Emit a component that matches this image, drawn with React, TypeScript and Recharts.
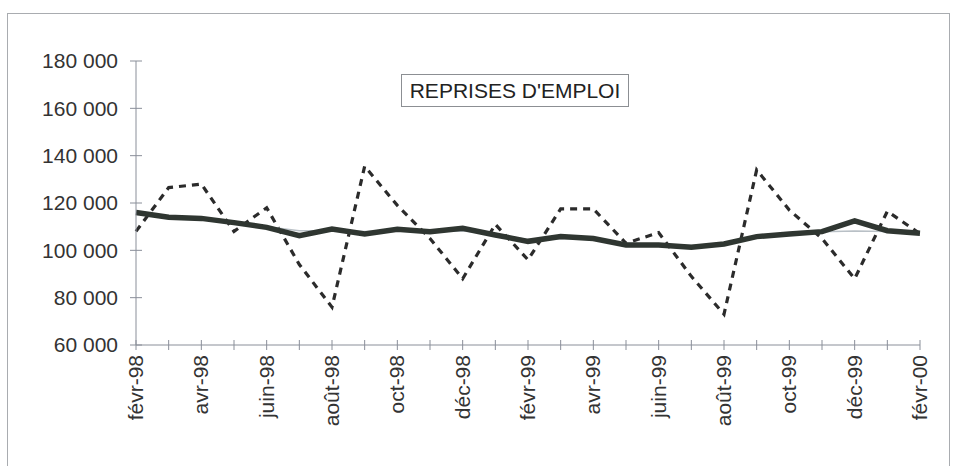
import { Line, LineChart, XAxis, YAxis } from "recharts";

const months = [
  "févr-98", "mars-98", "avr-98", "mai-98", "juin-98", "juil-98", "août-98", "sept-98", "oct-98",
  "nov-98", "déc-98", "janv-99", "févr-99", "mars-99", "avr-99", "mai-99", "juin-99", "juil-99",
  "août-99", "sept-99", "oct-99", "nov-99", "déc-99", "janv-00", "févr-00",
];

// brute (pointillés)
const brut = [
  108000, 126500, 128000, 108000, 118000, 94000, 76000, 135500, 119000,
  105000, 88000, 111000, 96000, 117500, 117500, 103000, 107500, 89000,
  73000, 134000, 117000, 105000, 88000, 116500, 107000,
];

// série lissée (trait épais)
const lisse = [
  116000, 114000, 113500, 111700, 109700, 106200, 109000, 106900, 108900,
  107900, 109300, 106500, 103800, 105800, 105000, 102300, 102300, 101300,
  102700, 105800, 106900, 107900, 112400, 108300, 107200,
];

// tendance (trait fin gris)
const tendance = [
  115800, 114000, 113500, 111700, 110000, 108300, 108300, 108000, 108200,
  108000, 108200, 107000, 104500, 105000, 104800, 103000, 102500, 102000,
  103000, 105500, 106800, 107800, 108200, 108000, 107200,
];

const yTicks = [60000, 80000, 100000, 120000, 140000, 160000, 180000];

const data = months.map((m, i) => ({ m, brut: brut[i], lisse: lisse[i], tendance: tendance[i] }));

const FONT = '"Liberation Sans", Arial, sans-serif';
const AXIS = "#8a8f99";

const fmt = (v: number) => {
  const s = String(v);
  return s.length > 3 ? s.slice(0, s.length - 3) + " " + s.slice(-3) : s;
};

function XTick(props: any) {
  const { x, y, payload, index } = props;
  return (
    <g>
      <line x1={x} x2={x} y1={y - 5} y2={y + 5} stroke={AXIS} strokeWidth={1} />
      {index % 2 === 0 && (
        <text
          x={x + 7}
          y={y + 10}
          transform={`rotate(-90, ${x + 7}, ${y + 10})`}
          textAnchor="end"
          fontSize={21}
          fontFamily={FONT}
          fill="#333"
        >
          {payload.value}
        </text>
      )}
    </g>
  );
}

function YTick(props: any) {
  const { x, y, payload } = props;
  return (
    <g>
      <line x1={x - 6} x2={x + 6} y1={y} y2={y} stroke={AXIS} strokeWidth={1} />
      <text x={118} y={y} dy="0.35em" textAnchor="end" fontSize={21} fontFamily={FONT} fill="#333">
        {fmt(payload.value)}
      </text>
    </g>
  );
}

export default function App() {
  return (
    <div style={{ position: "absolute", left: 0, top: 0, width: 955, height: 466, background: "#fff", overflow: "hidden" }}>
      <div
        style={{
          position: "absolute",
          left: 7,
          top: 13,
          width: 941,
          height: 470,
          border: "1px solid #a9acb0",
        }}
      />
      <LineChart
        width={955}
        height={466}
        data={data}
        margin={{ top: 61, right: 35, left: 0, bottom: 31 }}
        style={{ position: "absolute", left: 0, top: 0 }}
      >
        <XAxis
          dataKey="m"
          interval={0}
          tickLine={false}
          tickSize={0}
          tickMargin={0}
          height={90}
          stroke={AXIS}
          tick={<XTick />}
        />
        <YAxis
          domain={[60000, 180000]}
          ticks={yTicks}
          width={136}
          tickLine={false}
          tickSize={0}
          tickMargin={0}
          stroke={AXIS}
          tick={<YTick />}
        />
        <Line
          dataKey="brut"
          type="linear"
          stroke="#2b2b2b"
          strokeWidth={3.2}
          strokeDasharray="7 6"
          dot={false}
          isAnimationActive={false}
        />
        <Line dataKey="tendance" type="linear" stroke="#b9c0c6" strokeWidth={1.5} dot={false} isAnimationActive={false} />
        <Line dataKey="lisse" type="linear" stroke="#2f3631" strokeWidth={5.5} dot={false} isAnimationActive={false} />
      </LineChart>
      <div
        style={{
          position: "absolute",
          left: 401,
          top: 74,
          width: 226,
          height: 31,
          border: "1px solid #8c8f93",
          fontFamily: FONT,
          fontSize: 21,
          color: "#222",
          lineHeight: "31px",
          textAlign: "center",
          whiteSpace: "nowrap",
        }}
      >
        REPRISES D'EMPLOI
      </div>
    </div>
  );
}
